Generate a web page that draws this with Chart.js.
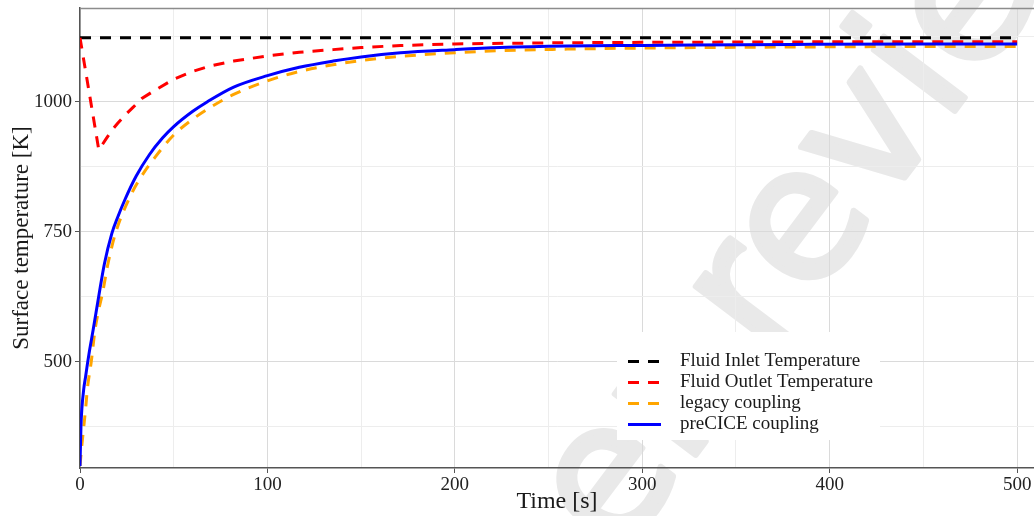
<!DOCTYPE html>
<html>
<head>
<meta charset="utf-8">
<title>Surface temperature</title>
<script src="https://cdn.jsdelivr.net/npm/chart.js@4.4.1/dist/chart.umd.min.js"></script>
<style>
  html, body { margin: 0; padding: 0; background: #ffffff; }
  #chart { display: block; }
</style>
</head>
<body>
<canvas id="chart" width="1034" height="516"></canvas>
<script>
// time [s] and surface temperature [K] for each curve
const inletTime = [0, 500];
const inletTemp = [1123, 1123];

const outletTime = [0, 10, 12, 14, 17, 20, 24, 28, 33, 40, 50, 60, 70, 82, 100, 117, 135, 150, 171, 200, 250, 300, 400, 500];
const outletTemp = [1123, 908, 918, 929, 945, 958, 974, 988, 1006, 1022, 1043, 1058, 1069, 1078, 1088, 1095, 1100, 1104, 1108, 1111, 1113, 1114, 1115, 1115];

const legacyTime = [0, 1, 2, 3, 4, 6, 8, 10, 12, 15, 19, 26, 32, 40, 50, 60, 70, 82, 100, 117, 135, 150, 171, 200, 224, 260, 300, 380, 450, 500];
const legacyTemp = [300, 340, 375, 410, 450, 500, 561, 600, 632, 690, 748, 812, 852, 893, 936, 966, 990, 1014, 1040, 1058, 1071, 1079, 1087, 1094, 1098, 1101, 1103, 1105, 1106, 1106];

const preciceTime = [0, 0.5, 1, 2, 3, 4, 5, 7, 10, 13, 17, 20, 24, 30, 37, 44, 50, 60, 68, 82, 100, 117, 135, 150, 171, 200, 224, 260, 300, 380, 450, 500];
const preciceTemp = [300, 375, 410, 448, 472, 497, 520, 561, 626, 688, 747, 777, 812, 857, 898, 930, 952, 981, 1000, 1028, 1050, 1066, 1078, 1086, 1094, 1100, 1104, 1107, 1108, 1110, 1111, 1111];

// grid positions; only the majors get a label
const xTickValues = [0, 50, 100, 150, 200, 250, 300, 350, 400, 450, 500];
const yTickValues = [375, 500, 625, 750, 875, 1000, 1125];
const xTicksMajor = 100;
const yTicksMajor = 250;

function points(xs, ys) {
    return xs.map((x, i) => ({ x: x, y: ys[i] }));
}

const serif = '"Liberation Serif", "Times New Roman", serif';

// grey "Peer review" stamp behind the plot
const watermark = {
    id: 'watermark',
    beforeDraw(chart) {
        const ctx = chart.ctx;
        ctx.save();
        ctx.translate(810, 303);
        ctx.rotate(-53 * Math.PI / 180);
        ctx.font = '185px "DejaVu Sans"';
        ctx.fillStyle = '#e9e9e9';
        ctx.strokeStyle = '#e9e9e9';
        ctx.lineWidth = 6;
        ctx.lineJoin = 'round';
        ctx.textAlign = 'center';
        ctx.textBaseline = 'alphabetic';
        ctx.fillText('Peer review', 0, 0);
        ctx.strokeText('Peer review', 0, 0);
        ctx.restore();
    }
};

// panel top border
const topBorder = {
    id: 'topBorder',
    afterDraw(chart) {
        const { ctx, chartArea } = chart;
        ctx.save();
        ctx.strokeStyle = '#8c8c8c';
        ctx.lineWidth = 1.5;
        ctx.beginPath();
        ctx.moveTo(chartArea.left, chartArea.top + 0.5);
        ctx.lineTo(chartArea.right, chartArea.top + 0.5);
        ctx.stroke();
        ctx.restore();
    }
};

// legend box inside the panel, bottom right
const insideLegend = {
    id: 'insideLegend',
    afterDraw(chart) {
        const ctx = chart.ctx;
        const order = [3, 2, 1, 0];
        ctx.save();
        ctx.fillStyle = '#ffffff';
        ctx.fillRect(617, 332, 263, 108);
        ctx.font = '19px ' + serif;
        ctx.textBaseline = 'middle';
        ctx.textAlign = 'left';
        order.forEach((idx, row) => {
            const ds = chart.data.datasets[idx];
            const y = 361.5 + row * 21;
            ctx.strokeStyle = ds.borderColor;
            ctx.lineWidth = 3;
            ctx.setLineDash(ds.borderDash || []);
            ctx.beginPath();
            ctx.moveTo(628, y);
            ctx.lineTo(661, y);
            ctx.stroke();
            ctx.setLineDash([]);
            ctx.fillStyle = '#1a1a1a';
            ctx.fillText(ds.label, 680, y);
        });
        ctx.restore();
    }
};

const ctxChart = document.getElementById('chart').getContext('2d');

const chart = new Chart(ctxChart, {
    type: 'line',
    data: {
        datasets: [
            {
                label: 'preCICE coupling',
                data: points(preciceTime, preciceTemp),
                borderColor: '#0000ff',
                borderWidth: 3,
                cubicInterpolationMode: 'monotone',
                pointRadius: 0,
                order: 0,
            },
            {
                label: 'legacy coupling',
                data: points(legacyTime, legacyTemp),
                borderColor: '#ffa500',
                borderWidth: 3,
                borderDash: [11, 9],
                cubicInterpolationMode: 'monotone',
                pointRadius: 0,
                order: 2,
            },
            {
                label: 'Fluid Outlet Temperature',
                data: points(outletTime, outletTemp),
                borderColor: '#ff0000',
                borderWidth: 3,
                borderDash: [11, 9],
                tension: 0,
                pointRadius: 0,
                order: 1,
            },
            {
                label: 'Fluid Inlet Temperature',
                data: points(inletTime, inletTemp),
                borderColor: '#000000',
                borderWidth: 3,
                borderDash: [11, 9],
                tension: 0,
                pointRadius: 0,
                order: 3,
            }
        ]
    },
    options: {
        responsive: false,
        animation: false,
        devicePixelRatio: 1,
        layout: {
            padding: { top: 8, right: 0, left: 0, bottom: 0 }
        },
        plugins: {
            legend: { display: false },
            tooltip: { enabled: false }
        },
        scales: {
            x: {
                type: 'linear',
                min: 0,
                max: 509,
                afterBuildTicks: (scale) => { scale.ticks = xTickValues.map(v => ({ value: v })); },
                afterFit: (scale) => {
                    scale.height = 48;
                    scale.paddingLeft = 0;
                    scale.paddingRight = 0;
                },
                border: { color: '#555555', width: 1.5 },
                grid: {
                    color: (c) => c.tick && c.tick.value % xTicksMajor === 0 ? '#dadada' : '#ededed',
                    lineWidth: 1,
                    tickLength: 5,
                    tickColor: (c) => c.tick && c.tick.value % xTicksMajor === 0 ? '#555555' : 'rgba(0,0,0,0)',
                },
                ticks: {
                    autoSkip: false,
                    maxRotation: 0,
                    padding: 1,
                    color: '#222222',
                    font: { family: serif, size: 19 },
                    callback: (v) => v % xTicksMajor === 0 ? v : '',
                },
                title: {
                    display: true,
                    text: 'Time [s]',
                    color: '#1a1a1a',
                    font: { family: serif, size: 24 },
                    padding: { top: 0, bottom: 0 },
                }
            },
            y: {
                type: 'linear',
                min: 296,
                max: 1180,
                afterBuildTicks: (scale) => { scale.ticks = yTickValues.map(v => ({ value: v })); },
                afterFit: (scale) => {
                    scale.width = 80;
                    scale.paddingTop = 0;
                    scale.paddingBottom = 0;
                },
                border: { color: '#555555', width: 1.5 },
                grid: {
                    color: (c) => c.tick && c.tick.value % yTicksMajor === 0 ? '#dadada' : '#ededed',
                    lineWidth: 1,
                    tickLength: 5,
                    tickColor: (c) => c.tick && c.tick.value % yTicksMajor === 0 ? '#555555' : 'rgba(0,0,0,0)',
                },
                ticks: {
                    autoSkip: false,
                    padding: 3,
                    color: '#222222',
                    font: { family: serif, size: 19 },
                    callback: (v) => v % yTicksMajor === 0 ? v : '',
                },
                title: {
                    display: true,
                    text: 'Surface temperature [K]',
                    color: '#1a1a1a',
                    font: { family: serif, size: 23 },
                    padding: { top: 8, bottom: 0 },
                }
            }
        }
    },
    plugins: [watermark, topBorder, insideLegend]
});
</script>
</body>
</html>
